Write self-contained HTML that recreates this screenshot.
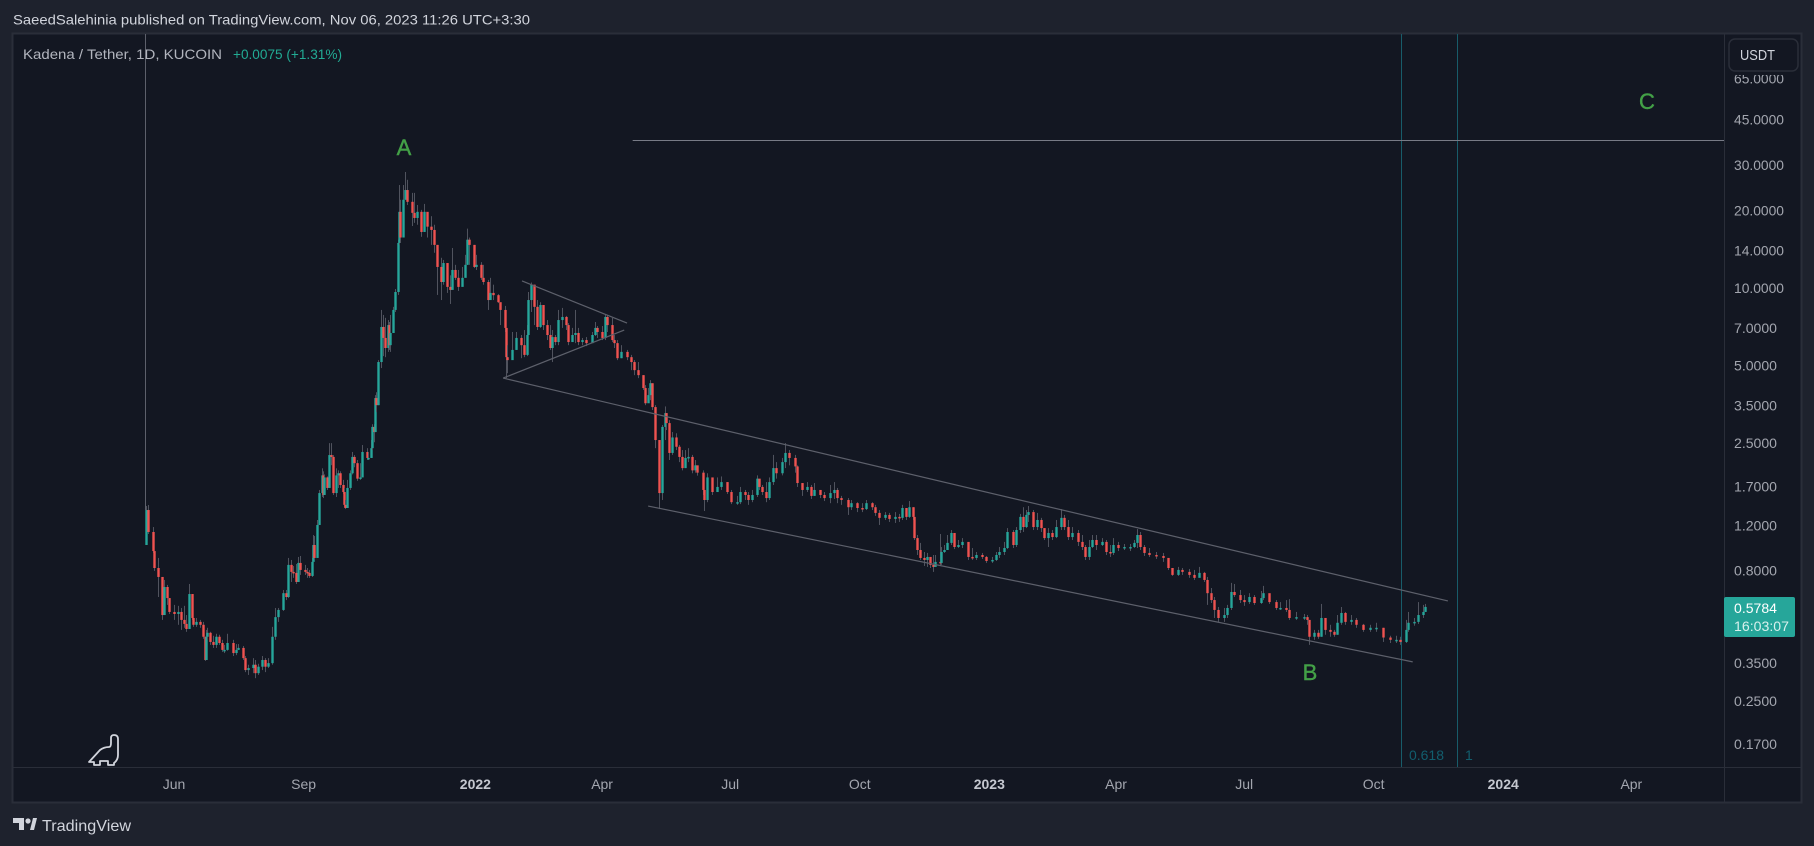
<!DOCTYPE html>
<html lang="en">
<head>
<meta charset="utf-8">
<title>Kadena / Tether chart</title>
<style>
html,body{margin:0;padding:0;background:#1e222d;width:1814px;height:846px;overflow:hidden}
svg{display:block;font-family:"Liberation Sans",sans-serif}
</style>
</head>
<body>
<svg id="chart" xmlns="http://www.w3.org/2000/svg" width="1814" height="846" viewBox="0 0 1814 846">
  <rect x="0" y="0" width="1814" height="846" fill="#1e222d"/>
  <text x="13" y="24.5" font-size="14" fill="#d1d4dc" textLength="517" lengthAdjust="spacingAndGlyphs">SaeedSalehinia published on TradingView.com, Nov 06, 2023 11:26 UTC+3:30</text>
  <rect x="12.5" y="33.5" width="1789" height="769" fill="#131722" stroke="#2a2e39" stroke-width="2"/>
  <line x1="1724.5" y1="33" x2="1724.5" y2="802" stroke="#2a2e39" stroke-width="1"/>
  <line x1="13" y1="767.5" x2="1801" y2="767.5" stroke="#2a2e39" stroke-width="1"/>
  <g id="drawings"></g>
  <g id="candles"></g>
  <g id="overlays"></g>
  <text x="1409" y="760" font-size="14" fill="#125e6e" textLength="35" lengthAdjust="spacingAndGlyphs">0.618</text>
  <text x="1465" y="760" font-size="14" fill="#125e6e">1</text>
  <text x="404" y="155" font-size="22" fill="#43a047" stroke="#43a047" stroke-width="0.4" text-anchor="middle">A</text>
  <text x="1310" y="680" font-size="22" fill="#43a047" stroke="#43a047" stroke-width="0.4" text-anchor="middle">B</text>
  <text x="1647" y="109" font-size="22" fill="#43a047" stroke="#43a047" stroke-width="0.4" text-anchor="middle">C</text>
  <text x="23" y="59" font-size="14" fill="#b2b5be" textLength="199" lengthAdjust="spacingAndGlyphs">Kadena / Tether, 1D, KUCOIN</text>
  <text x="233" y="59" font-size="14" fill="#22ab94" textLength="109" lengthAdjust="spacingAndGlyphs">+0.0075 (+1.31%)</text>
  <g id="price-axis"></g>
  <g id="time-axis"></g>
  <rect x="1726" y="36" width="74" height="39" fill="#131722"/>
  <rect x="1729" y="39" width="69" height="32" rx="6" fill="#131722" stroke="#2a2e39" stroke-width="1.5"/>
  <text x="1740" y="60" font-size="15" fill="#d1d4dc" textLength="35" lengthAdjust="spacingAndGlyphs">USDT</text>
  <rect x="1724" y="597" width="71" height="40" rx="2" fill="#26a69a"/>
  <text x="1734" y="613" font-size="14" fill="#ffffff" textLength="43" lengthAdjust="spacingAndGlyphs">0.5784</text>
  <text x="1734" y="631" font-size="14" fill="#d8f0ed" textLength="55" lengthAdjust="spacingAndGlyphs">16:03:07</text>
  <path d="M89 762 L100 750 Q104 747 109 747 Q111 747 111 743 L111 738 Q111 735 114 735 Q118 735 118 739 L118 755 Q118 760 114 763 L114 765 L108 765 L108 761 L100 761 L100 765 L94 765 L94 762 Z" fill="none" stroke="#d1d4dc" stroke-width="1.8" stroke-linejoin="round"/>
  <g>
    <path d="M13 818 H24 V830 H19 V823 H13 Z M30 830 L33 818 H37 L34 830 Z" fill="#d1d4dc"/>
    <circle cx="28" cy="821" r="2.6" fill="#d1d4dc"/>
    <text x="42" y="831" font-size="16" fill="#d1d4dc" textLength="89" lengthAdjust="spacingAndGlyphs">TradingView</text>
  </g>
</svg>
<script>
const firstOpen = 1.006;
const barDays = [
0,2,5,6,9,12,13,15,17,20,
23,25,27,29,31,33,34,36,39,41,
42,43,44,46,48,50,52,54,56,58,
62,64,66,69,71,73,76,78,80,83,
85,87,90,92,94,98,100,101,103,105,
107,108,110,113,115,116,118,119,120,122,
123,125,126,127,129,130,132,133,135,137,
138,140,141,142,143,145,147,148,150,152,
154,157,158,160,161,162,163,164,165,167,
169,170,172,173,174,176,177,179,180,181,
183,184,186,189,191,193,196,198,200,203,
205,207,210,211,214,216,218,220,222,225,
227,228,230,233,235,238,240,243,245,247,
250,252,255,256,257,260,263,267,269,271,
272,274,276,278,280,282,285,287,289,291,
293,296,299,300,303,305,307,310,313,317,
319,321,324,326,328,331,333,335,338,342,
345,347,350,353,355,357,358,360,362,365,
367,369,370,372,374,377,379,381,383,385,
388,390,392,396,397,399,402,406,409,413,
416,420,422,426,428,431,434,436,438,441,
443,446,448,452,454,457,461,463,466,470,
473,475,479,482,486,489,491,494,499,501,
505,509,512,516,518,521,525,528,532,535,
537,540,542,545,546,548,550,553,555,557,
559,561,564,565,567,569,572,574,577,580,
584,587,590,594,597,601,604,606,610,612,
616,618,621,623,625,627,630,633,636,638,
641,644,647,650,652,655,658,662,665,667,
670,672,675,679,682,685,687,691,695,699,
702,704,706,709,713,718,723,726,729,733,
736,741,745,748,752,754,757,759,762,766,
768,771,773,777,780,784,787,792,794,798,
803,806,810,812,817,823,825,826,830,833,
835,838,841,844,846,849,852,856,860,865,
870,874,879,884,888,891,895,897,901,904,
907,909];
const closes = [
1.375,1.13,.953,.819,.756,.538,.691,.626,.553,.543,
.553,.515,.497,.475,.649,.524,.493,.506,.493,.443,
.36,.443,.459,.423,.412,.443,.419,.394,.394,.419,
.383,.394,.401,.366,.329,.335,.345,.32,.339,.36,
.339,.35,.443,.528,.563,.654,.632,.842,.791,.784,
.723,.857,.805,.791,.784,.763,.865,1.006,.896,1.203,
1.6,1.874,1.573,1.84,1.675,2.247,2.21,1.6,1.874,1.91,
1.72,1.615,1.44,1.4,1.675,1.91,2.21,2.09,1.82,1.84,
2.31,2.19,2.19,2.39,2.89,2.76,3.74,3.51,5.16,7.06,
6.4,5.85,7.18,6,6.69,8.22,9.65,14.96,19.75,15.7,
22,24,21.6,19.57,18.7,19.75,16.5,19.75,17.3,16.8,
14.7,12.07,10.55,12.5,10.1,9.83,11.75,10.95,10.1,10.95,
12.3,15.4,14.7,12.07,12.3,10.95,10.55,8.98,9.57,9.38,
8.81,8.22,7,5.39,5.25,5.75,6.4,6,5.5,6.57,
8.98,10.3,8.45,7.06,8.59,7.18,6.57,5.85,6.45,6.17,
7.51,7.72,7.18,6.17,6.57,6.69,6.17,6.28,6.11,6.57,
7,6.75,6.4,7.72,7.18,6.28,6.11,5.34,5.65,5.39,
5.16,4.8,4.59,4.09,3.57,3.84,4.27,3.45,2.57,1.6,
2.89,3.27,2.99,2.29,2.63,2.42,2.21,2,2.19,2.21,
1.96,2.05,1.92,1.645,1.504,1.84,1.615,1.69,1.765,1.615,
1.475,1.475,1.615,1.573,1.504,1.573,1.82,1.69,1.615,1.53,
1.765,2,1.91,2.11,2.29,2.19,2.03,1.75,1.645,1.69,
1.56,1.645,1.573,1.53,1.6,1.645,1.53,1.504,1.41,1.462,
1.4,1.387,1.462,1.41,1.34,1.282,1.316,1.27,1.293,1.282,
1.4,1.293,1.41,1.293,1.07,.962,.896,.88,.904,.842,
.827,.865,.857,.945,.962,1.025,1.12,.988,1.006,1.034,
.904,.896,.92,.904,.872,.88,.92,.945,.979,1.13,
1.006,1.15,1.293,1.181,1.316,1.35,1.181,1.258,1.17,1.07,
1.12,1.08,1.181,1.282,1.181,1.08,1.12,1.034,.988,.904,
.988,1.052,1.006,1.034,.945,.937,1.006,.979,.988,.988,
1.025,1.1,.988,.937,.92,.912,.896,.819,.77,.805,
.791,.77,.75,.784,.736,.654,.615,.563,.524,.538,
.573,.661,.643,.615,.604,.632,.599,.626,.654,.604,
.573,.573,.563,.524,.528,.528,.515,.443,.459,.443,
.524,.471,.463,.451,.502,.548,.506,.515,.493,.471,
.48,.48,.44,.431,.431,.423,.471,.502,.506,.538,
.553,.5784];
const highs = [
1.425,1.438,1.181,.937,.896,.704,.736,.704,.626,.589,
.584,.573,.584,.538,.71,.649,.524,.524,.515,.506,
.443,.471,.48,.463,.447,.455,.451,.431,.412,.455,
.431,.415,.415,.408,.373,.345,.366,.36,.348,.373,
.366,.366,.484,.573,.573,.673,.673,.896,.88,.834,
.849,.904,.912,.842,.819,.805,.896,1.1,1.09,1.258,
1.645,1.996,1.943,1.89,1.856,2.5,2.5,2.247,1.996,1.96,
1.943,1.8,1.675,1.504,1.8,1.96,2.31,2.247,2.15,2.09,
2.458,2.39,2.31,2.57,2.96,2.96,3.84,3.94,5.25,8.22,
7.86,7.66,7.51,7.38,7.86,8.45,9.91,15.4,25.1,22,
25.1,28.2,26.3,23.4,23.4,21,20.1,21.2,19.2,19,
17.6,14.7,13.1,12.85,11.35,11.2,14.3,12.3,11.75,12.07,
13.45,17,15.7,14.7,13.45,12.6,12.3,10.75,10.95,10.3,
9.47,8.59,8.52,7,6,6.75,6.75,6.57,6.87,7.18,
9.65,10.5,10.3,8.98,8.81,8.37,7.51,7.18,6.87,6.57,
8.22,8.37,7.79,7.31,7,8.22,7,6.4,6.45,6.75,
7.38,7.12,7.12,7.86,7.86,7.65,6.57,6.28,6,5.75,
5.5,5.25,5.16,4.59,4.2,4.09,4.39,4.27,3.51,2.57,
2.94,3.47,3.27,3.07,2.76,2.73,2.46,2.35,2.35,2.39,
2.25,2.15,2.03,1.96,1.645,1.91,1.8,1.84,1.856,1.765,
1.645,1.56,1.69,1.645,1.615,1.645,1.874,1.8,1.72,1.765,
1.84,2.25,2.11,2.19,2.5,2.35,2.25,2.05,1.75,1.765,
1.72,1.75,1.645,1.615,1.72,1.765,1.675,1.56,1.53,1.504,
1.475,1.462,1.504,1.475,1.44,1.375,1.35,1.34,1.35,1.328,
1.44,1.4,1.49,1.41,1.293,1.1,1.025,.945,.937,.896,
.92,.92,1.11,.988,1.006,1.1,1.15,1.1,1.052,1.07,
1.006,.979,.945,.937,.912,.904,.945,.988,1.034,1.17,
1.15,1.181,1.328,1.41,1.375,1.425,1.375,1.34,1.282,1.17,
1.17,1.15,1.258,1.387,1.316,1.258,1.181,1.15,1.1,1.006,
1.052,1.1,1.1,1.07,1.052,1.006,1.07,1.034,1.015,1.015,
1.052,1.16,1.13,1.006,.979,.945,.937,.896,.819,.827,
.819,.812,.805,.827,.791,.756,.685,.632,.578,.573,
.589,.717,.71,.673,.643,.654,.643,.667,.698,.643,
.615,.604,.615,.62,.553,.543,.538,.515,.471,.471,
.594,.524,.493,.471,.538,.578,.553,.538,.524,.497,
.493,.502,.48,.447,.447,.443,.515,.553,.524,.604,
.589,.594];
const lows = [
1.006,1.11,.937,.798,.632,.515,.538,.589,.543,.515,
.493,.471,.48,.463,.506,.515,.484,.484,.48,.435,
.357,.36,.431,.412,.401,.401,.412,.387,.383,.391,
.373,.376,.394,.36,.323,.315,.32,.306,.315,.329,
.323,.335,.345,.431,.506,.558,.615,.626,.723,.75,
.71,.723,.77,.77,.75,.75,.756,.88,.88,.988,
1.203,1.545,1.53,1.573,1.645,1.675,2.053,1.573,1.545,1.675,
1.675,1.588,1.41,1.387,1.4,1.645,1.89,2.015,1.784,1.8,
1.874,2.15,2.15,2.19,2.35,2.52,2.76,3.3,3.51,4.89,
5.44,5.39,5.65,5.75,5.65,6.75,8.07,9.4,14.7,14.96,
18.05,22,21,17.4,17.9,17.6,15.8,16.5,15.7,14.7,
13.7,9.4,8.98,10.3,9.57,8.67,10.3,10.75,9.74,10.75,
11.75,12.3,12.3,11.95,11.75,10.75,10.3,8.22,9.2,8.98,
8.74,7.18,6.75,4.47,4.67,5.34,5.75,5.34,5.39,5.44,
6.57,8.07,7.18,6.87,7,6.87,6.28,5.75,5.16,6,
6,7,6.87,6,6.17,6.11,6,6,5.95,6.17,
6.51,6.4,6.28,6.28,6.75,6.17,5.85,5.25,5.34,5.25,
4.8,4.59,4.47,4.02,3.51,3.74,3.67,3.36,2.39,1.387,
1.504,2.57,2.81,2.15,2.25,2.35,2.11,1.96,2,2.11,
1.91,1.92,1.87,1.573,1.363,1.475,1.573,1.615,1.645,1.588,
1.45,1.44,1.45,1.504,1.44,1.475,1.545,1.645,1.573,1.475,
1.504,1.72,1.82,1.874,2,2.05,1.92,1.69,1.56,1.615,
1.518,1.56,1.53,1.49,1.462,1.518,1.462,1.44,1.316,1.375,
1.35,1.35,1.375,1.375,1.305,1.203,1.258,1.236,1.225,1.236,
1.258,1.258,1.282,1.258,1.052,.92,.88,.834,.827,.819,
.791,.842,.834,.842,.937,.962,1.006,.97,.979,.979,
.88,.88,.88,.888,.857,.857,.872,.896,.92,.97,
.979,.988,1.12,1.13,1.17,1.236,1.15,1.15,1.13,1.052,
.988,1.052,1.07,1.15,1.15,1.052,1.052,.997,.962,.88,
.88,.979,.962,.997,.92,.904,.92,.953,.962,.953,
.979,.979,.962,.912,.904,.888,.865,.805,.763,.763,
.77,.75,.736,.756,.723,.589,.599,.524,.506,.506,
.524,.563,.632,.599,.584,.594,.589,.594,.615,.594,
.563,.563,.553,.515,.515,.515,.493,.412,.431,.435,
.443,.451,.443,.443,.451,.493,.493,.493,.48,.463,
.463,.463,.423,.419,.419,.412,.419,.463,.489,.497,
.524,.563];

const priceTicks = [65,45,30,20,14,10,7,5,3.5,2.5,1.7,1.2,0.8,0.35,0.25,0.17];
const timeTickDays = [21,113,235,325,416,508,600,690,781,873,965,1056];
const timeTickLabels = ["Jun","Sep","2022","Apr","Jul","Oct","2023","Apr","Jul","Oct","2024","Apr"];
const timeTickMajor = [false,false,true,false,false,false,true,false,false,false,true,false];

const trendLineNames = ["triangle-upper-line","triangle-lower-line","channel-top-line","channel-bottom-line"];
const trendStartDays = [267.4,254,254,357];
const trendStartPrices = [10.65,4.47,4.47,1.425];
const trendEndDays = [342,340,925,900];
const trendEndPrices = [7.31,6.87,0.61,0.354];
const fibDays = [892,931.3];
const anchorDay = 0;
const anchorLowPrice = 1.375;
const targetPrice = 37.4;
const targetStartDay = 346;

const SVGNS = "http://www.w3.org/2000/svg";
const plotTop = 34, plotBottom = 767, plotRight = 1724;
function xOf(day){ return 145.5 + day * 1.408; }
function yOf(price){ return 288 + 111.9 * Math.log(10 / price); }
function make(tag, attrs, parent){
  const el = document.createElementNS(SVGNS, tag);
  for (const k in attrs) el.setAttribute(k, attrs[k]);
  parent.appendChild(el);
  return el;
}

const drawingsLayer = document.getElementById("drawings");
const overlaysLayer = document.getElementById("overlays");
const candleLayer = document.getElementById("candles");
const priceAxis = document.getElementById("price-axis");
const timeAxis = document.getElementById("time-axis");

const anchorLine = make("line", {x1:xOf(anchorDay), y1:plotTop, x2:xOf(anchorDay), y2:yOf(anchorLowPrice), stroke:"#5d606b", "stroke-width":1}, drawingsLayer);



fibDays.forEach(function(d){
  const fib = make("line", {x1:Math.round(xOf(d))+0.5, y1:plotTop, x2:Math.round(xOf(d))+0.5, y2:plotBottom, stroke:"#185c6a", "stroke-width":1}, drawingsLayer);
  
  
});

const targetLine = make("line", {x1:xOf(targetStartDay), y1:Math.round(yOf(targetPrice))+0.5, x2:plotRight, y2:Math.round(yOf(targetPrice))+0.5, stroke:"#787b86", "stroke-width":1}, drawingsLayer);



barDays.forEach(function(day, i){
  const close = closes[i];
  const open = i === 0 ? firstOpen : closes[i-1];
  const px = Math.round(xOf(day));
  const wick = make("rect", {x:px, y:yOf(highs[i]), width:1, height:Math.max(1, yOf(lows[i]) - yOf(highs[i])), fill:"#50535e"}, candleLayer);
  
  
  const top = Math.min(yOf(open), yOf(close));
  const bottom = Math.max(yOf(open), yOf(close));
  const body = make("rect", {x:px - 0.7, y:top, width:2.4, height:Math.max(1.5, bottom - top), fill: close >= open ? "#26a69a" : "#ef5350"}, candleLayer);
  
  
});

trendLineNames.forEach(function(name, i){
  const tl = make("line", {x1:xOf(trendStartDays[i]), y1:yOf(trendStartPrices[i]), x2:xOf(trendEndDays[i]), y2:yOf(trendEndPrices[i]), stroke:"#5d606b", "stroke-width":1.2}, overlaysLayer);
  
  
});

priceTicks.forEach(function(p){
  const t = make("text", {x:1734, y:yOf(p)+5, "font-size":14, fill:"#a3a6af", textLength:p>=10?50:43, lengthAdjust:"spacingAndGlyphs"}, priceAxis);
  t.textContent = p.toFixed(4);
  
  
});

timeTickDays.forEach(function(d, i){
  const t = make("text", {x:xOf(d) - 1, y:789, "font-size":14, fill:timeTickMajor[i] ? "#c5c8d0" : "#a3a6af", "font-weight":timeTickMajor[i] ? "bold" : "normal", "text-anchor":"middle"}, timeAxis);
  t.textContent = timeTickLabels[i];
  
  
});
</script>
</body>
</html>
